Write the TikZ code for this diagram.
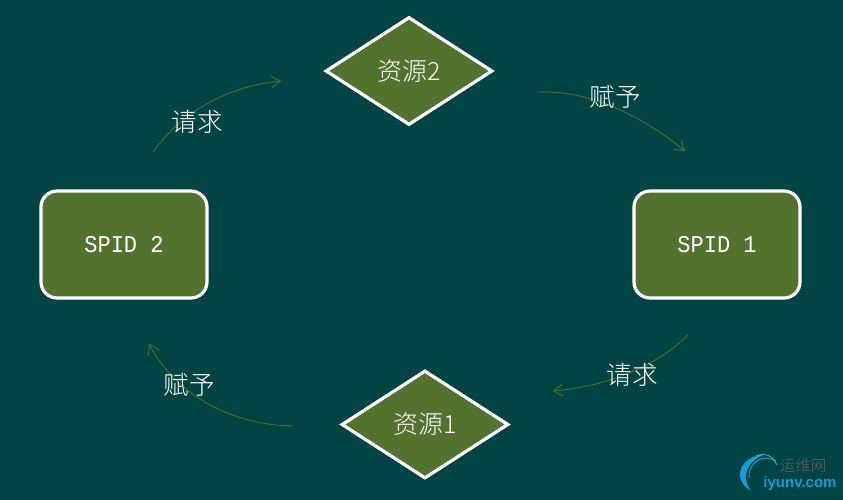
\documentclass[tikz,border=0pt]{standalone}
\usepackage{fontspec}
\setmainfont{Liberation Serif}
\newfontfamily\monoc[FakeStretch=0.917]{Liberation Mono}
\newfontfamily\cjk{Noto Sans CJK SC Light}
\newfontfamily\latinsans{Liberation Sans}
\usetikzlibrary{shapes.geometric,arrows.meta}
\definecolor{bgc}{HTML}{004544}
\definecolor{fillc}{HTML}{52722E}
\definecolor{arrowc}{HTML}{507231}
\definecolor{wmblue}{HTML}{1A9AD6}
\definecolor{wmgrey}{HTML}{5F5F66}
\tikzset{
  x=1pt,y=-1pt,
  procbox/.style={draw=white,line width=3.2pt,fill=fillc,rounded corners=16pt,minimum width=166pt,minimum height=107pt,text=white,font=\monoc\fontsize{24}{26}\selectfont,inner sep=0pt},
  resdia/.style={draw=white,line width=3.2pt,fill=fillc,diamond,aspect=1.55,minimum width=167pt,minimum height=108pt,text=white,font=\cjk\fontsize{25}{27}\selectfont,inner sep=0pt},
  flow/.style={draw=arrowc,line width=0.85pt,-{Straight Barb[length=9pt,width=12pt,line width=0.85pt]}},
  lab/.style={text=white,font=\cjk\fontsize{25.5}{27}\selectfont,inner sep=0pt},
}
\begin{document}
\begin{tikzpicture}
\useasboundingbox[fill=bgc] (0,0) rectangle (843,500);
\node[resdia] (r2) at (409,71) {\raisebox{2pt}{资源2}};
\node[resdia] (r1) at (425,424.5) {\raisebox{1.5pt}{资源1}};
\node[procbox] (p1) at (717,244.5) {SPID 1};
\node[procbox] (p2) at (124,244.5) {SPID 2};
\coordinate (a1s) at (153,152);
\coordinate (a1e) at (281,81);
\coordinate (a2s) at (538,92);
\coordinate (a2e) at (685,151);
\coordinate (a3s) at (688,335);
\coordinate (a3e) at (553,391);
\coordinate (a4s) at (293,426);
\coordinate (a4e) at (149,344);
\draw[flow] (a1s) .. controls (185,108) and (232,86) .. (a1e);
\draw[flow] (a2s) .. controls (590,90) and (642,116) .. (a2e);
\draw[flow] (a3s) .. controls (655,368) and (603,387) .. (a3e);
\draw[flow] (a4s) .. controls (235,425) and (178,398) .. (a4e);
\node[lab] (l1) at (197,122) {请求};
\node[lab] (l2) at (615,97) {赋予};
\node[lab] (l3) at (632,375) {请求};
\node[lab] (l4) at (189,385) {赋予};
% watermark
\fill[wmblue] (766,454) .. controls (738,456) and (732,480) .. (751,491) .. controls (740,476) and (748,460) .. (766,454) -- cycle;
\draw[wmblue,line width=1pt] (749,478) .. controls (748,463) and (762,453) .. (776,461);
\draw[wmblue!80!white,line width=0.8pt] (756,456) .. controls (765,452) and (773,456) .. (777,465);
\node[text=wmgrey,font=\cjk\fontsize{15.5}{16}\selectfont,inner sep=0pt] (w1) at (803,466) {运维网};
\node[text=wmblue,font=\latinsans\bfseries\fontsize{15}{16}\selectfont,inner sep=0pt] (w2) at (800,484) {iyunv.com};
\end{tikzpicture}
\end{document}
